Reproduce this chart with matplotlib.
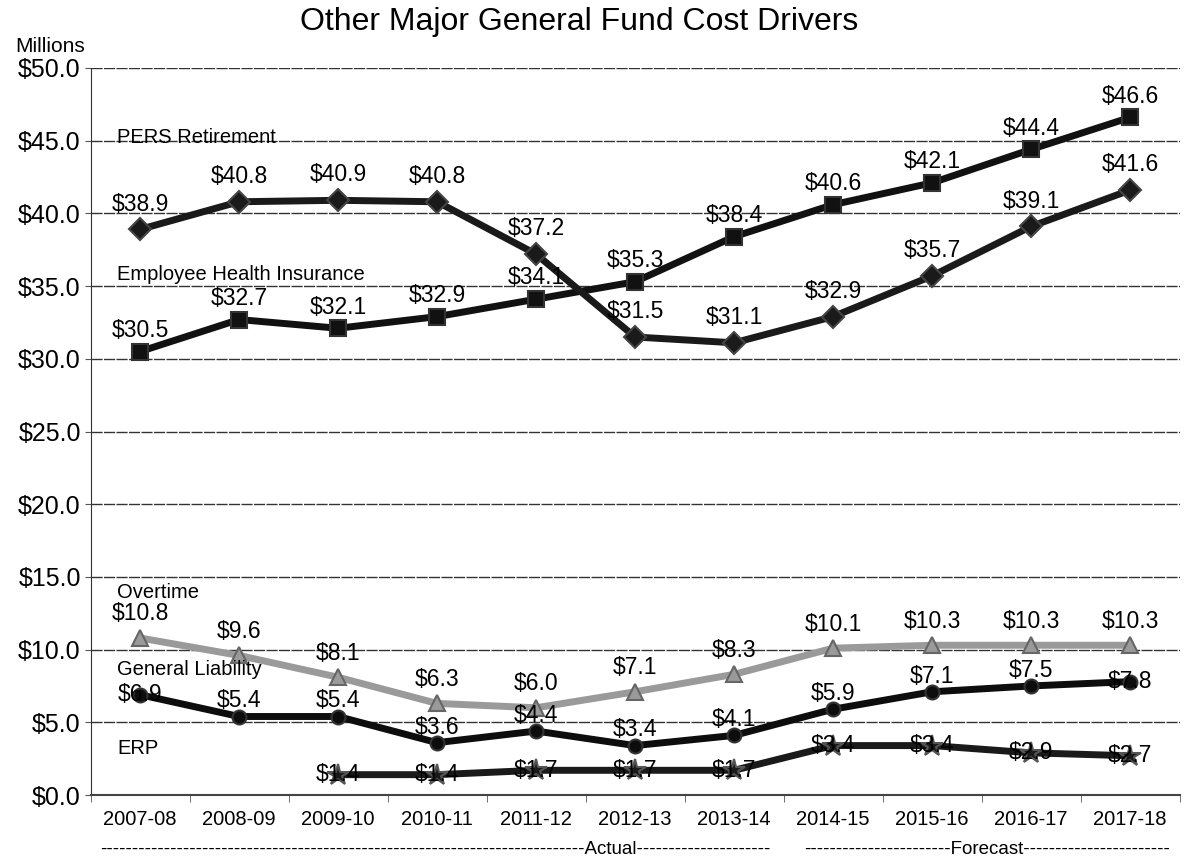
import numpy as np
import matplotlib.pyplot as plt

plt.rcParams['font.family'] = ['Liberation Sans', 'DejaVu Sans']

years = ['2007-08', '2008-09', '2009-10', '2010-11', '2011-12', '2012-13',
         '2013-14', '2014-15', '2015-16', '2016-17', '2017-18']

pers = [30.5, 32.7, 32.1, 32.9, 34.1, 35.3, 38.4, 40.6, 42.1, 44.4, 46.6]
health = [38.9, 40.8, 40.9, 40.8, 37.2, 31.5, 31.1, 32.9, 35.7, 39.1, 41.6]
overtime = [10.8, 9.6, 8.1, 6.3, 6.0, 7.1, 8.3, 10.1, 10.3, 10.3, 10.3]
liability = [6.9, 5.4, 5.4, 3.6, 4.4, 3.4, 4.1, 5.9, 7.1, 7.5, 7.8]
erp = [None, None, 1.4, 1.4, 1.7, 1.7, 1.7, 3.4, 3.4, 2.9, 2.7]

series_names = ['PERS Retirement', 'Employee Health Insurance', 'Overtime',
                'General Liability', 'ERP']
name_y = [45.2, 35.8, 13.9, 8.6, 3.2]

fig = plt.figure(figsize=(11.85, 8.65), dpi=100)
ax = fig.add_axes([0.0764, 0.0809, 0.919, 0.8405])

x = np.arange(len(years))


def draw(vals, color, marker, ms, mec, label_dy, center_idx=(), fs=16.5):
    xs = [i for i, v in enumerate(vals) if v is not None]
    ys = [vals[i] for i in xs]
    ax.plot(xs, ys, color=color, lw=5, marker=marker, ms=ms,
            mfc=color, mec=mec, mew=1.5, zorder=3, solid_joinstyle='round')
    for i, v in zip(xs, ys):
        if i in center_idx:
            ax.annotate(f'${v:.1f}', (i, v), xytext=(0, 0), textcoords='offset points',
                        ha='center', va='center', fontsize=fs, zorder=4)
        else:
            ax.annotate(f'${v:.1f}', (i, v), xytext=(0, label_dy), textcoords='offset points',
                        ha='center', va='bottom', fontsize=fs, zorder=4)


draw(pers, '#111111', 's', 12, '#333333', 7)
draw(health, '#1a1a1a', 'D', 11, '#444444', 10)
draw(overtime, '#9a9a9a', '^', 11, '#666666', 9)
draw(liability, '#0d0d0d', 'o', 10, '#333333', 3, center_idx=(0, 10))
draw(erp, '#1a1a1a', '*', 16, '#555555', 0,
     center_idx=tuple(range(len(years))))

for name, yy in zip(series_names, name_y):
    ax.text(-0.23, yy, name, fontsize=14.5, va='center', ha='left', zorder=5)

ax.set_xlim(-0.5, 10.5)
ax.set_ylim(0, 50)
ax.set_yticks(np.arange(0, 50.1, 5))
ax.set_yticklabels([f'${v:.1f}' for v in np.arange(0, 50.1, 5)], fontsize=18)
ax.set_xticks(x)
ax.set_xticklabels(years, fontsize=14.5)
ax.set_xticks(np.arange(-0.5, 10.6, 1), minor=True)
ax.tick_params(axis='x', which='major', length=0, pad=11)
ax.tick_params(axis='x', which='minor', length=5, direction='out', color='#555555')
ax.tick_params(axis='y', length=4, pad=3, color='#555555')

ax.grid(axis='y', color='#333333', lw=1.0, ls=(0, (8, 1)))
ax.set_axisbelow(True)
for side in ['top', 'right']:
    ax.spines[side].set_visible(False)
ax.spines['left'].set_color('#333333')
ax.spines['bottom'].set_color('#444444')
ax.spines['bottom'].set_linewidth(1.5)

fig.text(0.489, 0.975, 'Other Major General Fund Cost Drivers', fontsize=23,
         ha='center', va='center')
fig.text(0.013, 0.946, 'Millions', fontsize=15, ha='left', va='center')

# period brackets under the year labels
fig.text(0.0844, 0.018, '-' * 76 + 'Actual' + '-' * 21, fontsize=13.5,
         ha='left', va='center')
fig.text(0.679, 0.018, '-' * 23 + 'Forecast' + '-' * 23, fontsize=13.5,
         ha='left', va='center')

fig.savefig('out.png', dpi=100)
